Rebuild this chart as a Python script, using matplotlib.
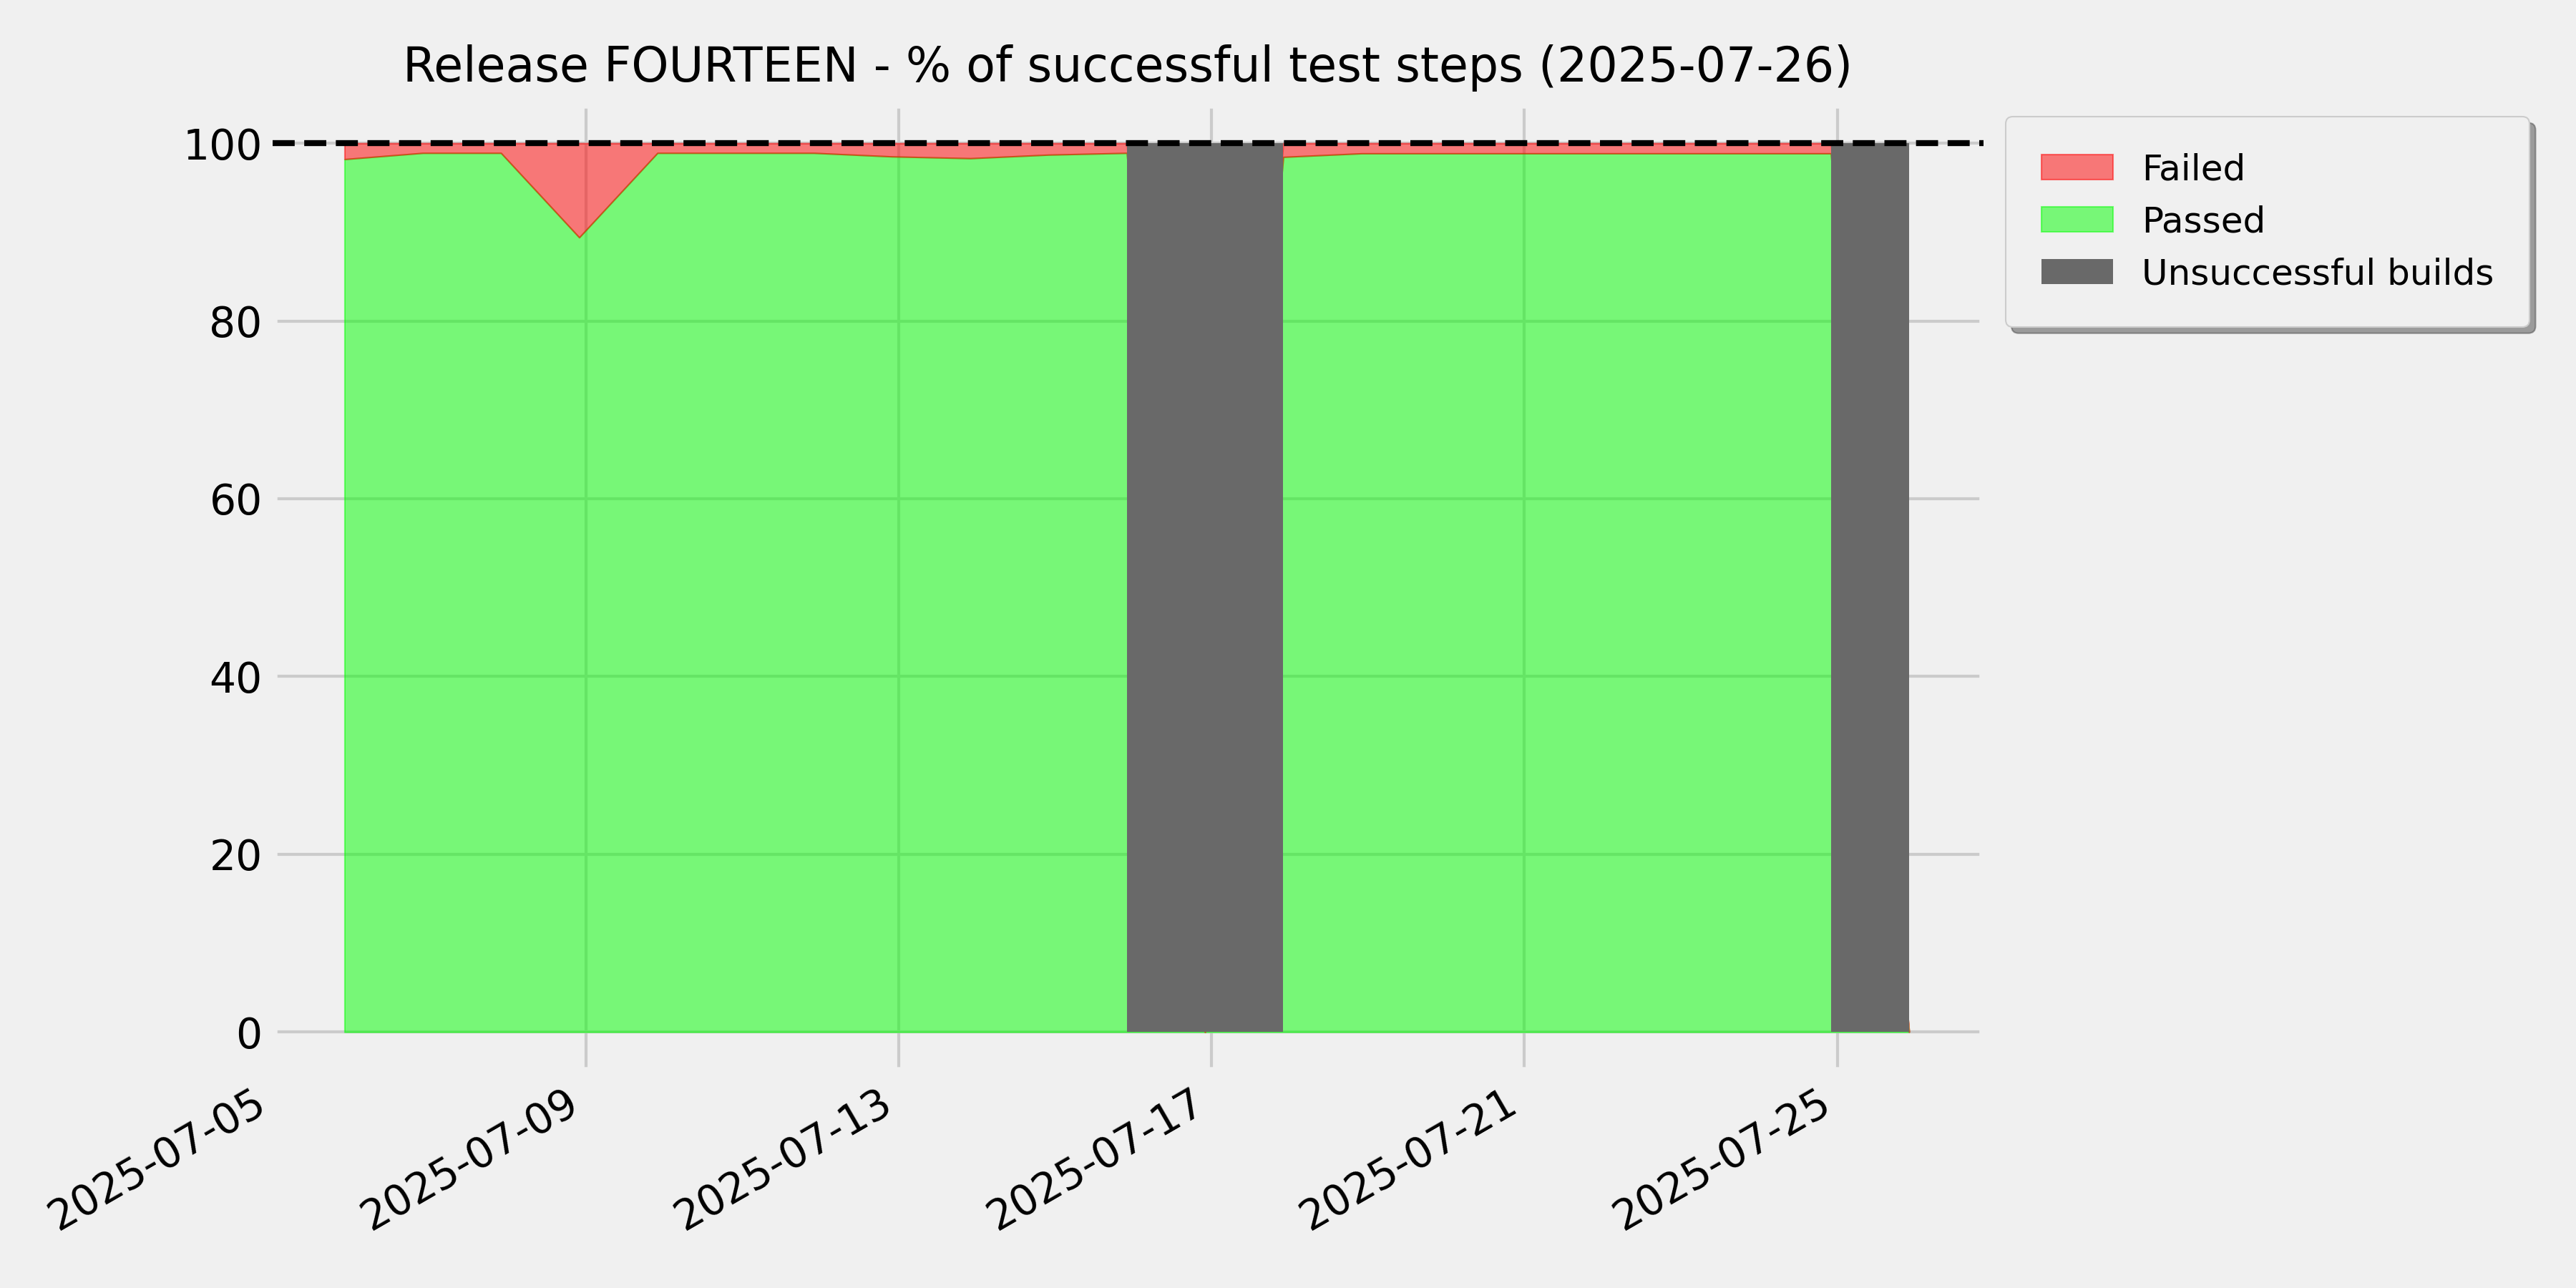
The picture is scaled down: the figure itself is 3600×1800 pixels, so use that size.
import datetime as dt
import matplotlib
matplotlib.use("Agg")
import matplotlib.pyplot as plt
import matplotlib.dates as mdates
import numpy as np

# daily report timestamps (builds run at 22:00)
dates = [dt.datetime(2025, 7, d, 22, 0) for d in range(5, 26)]

# % of passed test steps per build, None = unsuccessful build
passed = [98.2, 98.9, 98.9, 89.4, 98.9, 98.9, 98.9, 98.5, 98.3, 98.7, 98.9,
          None, 98.45, 98.85, 98.85, 98.85, 98.85, 98.85, 98.85, 98.85, None]

title = 'Release FOURTEEN - % of successful test steps (2025-07-26)'

plt.style.use('fivethirtyeight')

failed_build = [p is None for p in passed]
passed_pct = np.array([0.0 if p is None else p for p in passed])
failed_pct = np.array([0.0 if p is None else 100.0 - p for p in passed])

fig = plt.figure(figsize=(12, 6), dpi=300)
ax = fig.add_axes([0.1059, 0.1682, 0.664, 0.7512])

ax.fill_between(dates, 0, passed_pct, color='lime', alpha=0.5, label='Passed')
ax.fill_between(dates, passed_pct, passed_pct + failed_pct, color='red', alpha=0.5,
                label='Failed')

# grey block over every unsuccessful build, from previous build to next build
first_bad = failed_build.index(True)
for i, bad in enumerate(failed_build):
    if not bad:
        continue
    left = dates[i - 1]
    right = dates[i + 1] if i + 1 < len(dates) else dates[i]
    ax.bar(left, 100, width=right - left, align='edge', color='dimgray',
           label='Unsuccessful builds' if i == first_bad else None, zorder=3)

ax.axhline(100, color='black', linestyle='--', linewidth=2, zorder=4)

ax.set_xlim(dt.datetime(2025, 7, 5), dt.datetime(2025, 7, 26, 20, 45))
ax.set_ylim(-4.43, 104.43)
ax.set_yticks([0, 20, 40, 60, 80, 100])
ax.xaxis.set_major_locator(mdates.DayLocator(bymonthday=[1, 5, 9, 13, 17, 21, 25, 29]))
ax.xaxis.set_major_formatter(mdates.DateFormatter('%Y-%m-%d'))
for lab in ax.get_xticklabels():
    lab.set_rotation(30)
    lab.set_ha('right')

ax.set_title(title, fontsize=16, pad=7.5)

h, l = ax.get_legend_handles_labels()
order = [l.index('Failed'), l.index('Passed'), l.index('Unsuccessful builds')]
ax.legend([h[i] for i in order], [l[i] for i in order], loc='upper left',
          bbox_to_anchor=(1.013, 0.9865), borderaxespad=0, fontsize=12,
          borderpad=1.0, shadow=True, fancybox=True)

fig.savefig('out.png', dpi=300)
